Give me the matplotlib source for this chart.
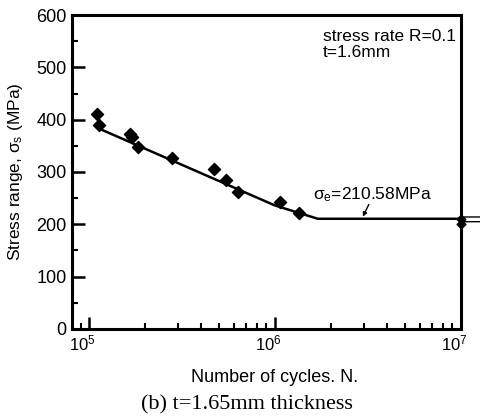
import matplotlib
matplotlib.use('Agg')
import matplotlib.pyplot as plt
import matplotlib.transforms as mtransforms
import numpy as np

# test data
cycles = [1.10e5, 1.13e5, 1.66e5, 1.70e5, 1.83e5, 2.79e5, 4.68e5, 5.45e5, 6.33e5, 1.07e6, 1.34e6]
stress = [411, 390, 372, 366, 348, 326, 305, 284, 262, 243, 221]
runout_cycles = [1.0e7, 1.0e7]
runout_stress = [210, 201]

fit_cycles = [1.13e5, 1.0e6, 1.7e6, 1.0e7]
fit_stress = [383, 236, 210.58, 210.58]

xticks = [1e5, 1e6, 1e7]
xticklabels = ['$10^5$', '$10^6$', '$10^7$']
yticks = [0, 100, 200, 300, 400, 500, 600]

plt.rcParams['font.family'] = ['Liberation Sans', 'DejaVu Sans']
plt.rcParams['mathtext.fontset'] = 'custom'
plt.rcParams['mathtext.rm'] = 'Liberation Sans'
plt.rcParams['mathtext.it'] = 'Liberation Sans'
plt.rcParams['mathtext.bf'] = 'Liberation Sans:bold'

fig = plt.figure(figsize=(4.81, 4.19), dpi=100)
ax = fig.add_axes([0.150, 0.215, 0.808, 0.749])

ax.plot(fit_cycles, fit_stress, color='black', lw=1.8, zorder=3)
ax.scatter(cycles, stress, marker='D', s=38, color='black', zorder=4)
ax.scatter(runout_cycles, runout_stress, marker='D', s=20, color='black', zorder=4, clip_on=False)
for s in runout_stress:
    ax.annotate('', xy=(1.48e7, s + 4), xytext=(1.0e7, s + 4), annotation_clip=False,
                arrowprops=dict(arrowstyle='-|>', color='black', lw=1,
                                mutation_scale=7, shrinkA=0, shrinkB=0))

ax.set_xscale('log')
ax.set_xlim(8.1e4, 1e7)
ax.set_ylim(0, 600)
ax.set_xticks(xticks)
ax.set_xticklabels(xticklabels)
ax.set_yticks(yticks)
ax.set_yticks(np.arange(50, 600, 100), minor=True)
ax.tick_params(which='major', direction='in', length=9, width=1.8, labelsize=13)
ax.tick_params(which='minor', direction='in', length=4, width=1.5)
ax.tick_params(axis='x', labelsize=12, pad=3)
ax.tick_params(axis='y', pad=4)
shift = mtransforms.ScaledTranslation(-5 / 72, 0, fig.dpi_scale_trans)
for lab in ax.get_xticklabels():
    lab.set_transform(lab.get_transform() + shift)
for sp in ax.spines.values():
    sp.set_linewidth(2.2)

ax.set_xlabel('Number of cycles. N.', fontsize=13)
ax.xaxis.set_label_coords(0.52, -0.128)
ax.set_ylabel(r'Stress range, $\sigma_s$ (MPa)', fontsize=12.5)
ax.yaxis.set_label_coords(-0.122, 0.5)

ax.text(0.645, 0.955, 'stress rate R=0.1\nt=1.6mm', transform=ax.transAxes,
        fontsize=12.5, va='top', ha='left', linespacing=1.05)
ax.annotate(r'$\sigma_e$=210.58MPa', xy=(2.97e6, 214.6), xytext=(1.6e6, 247),
            fontsize=12.5, arrowprops=dict(arrowstyle='-|>', color='black', lw=1,
                                           mutation_scale=6, shrinkA=0, shrinkB=0,
                                           patchA=None, relpos=(0.47, 0.0)))

fig.text(0.513, 0.033, '(b) t=1.65mm thickness', ha='center', va='center',
         fontsize=16, family='Liberation Serif')

fig.savefig('out.png', dpi=100)
